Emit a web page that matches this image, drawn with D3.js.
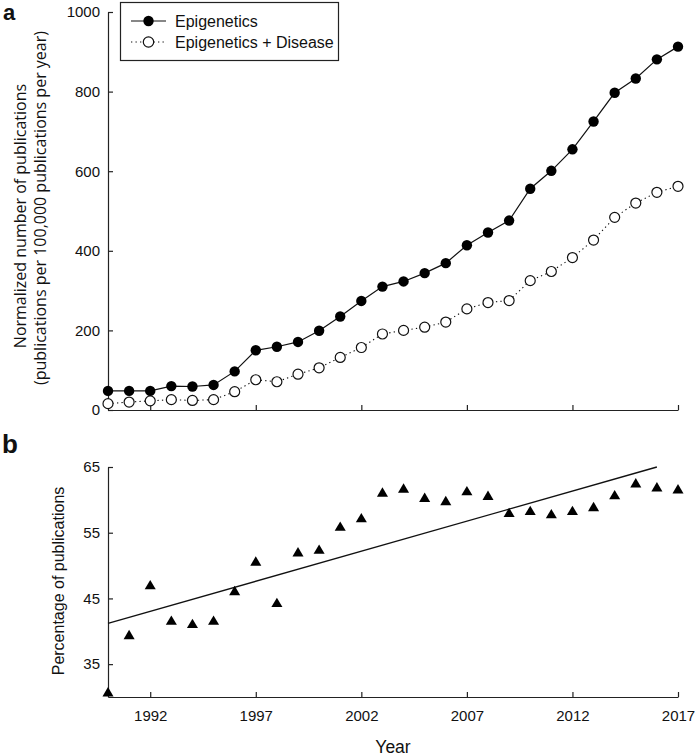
<!DOCTYPE html>
<html>
<head>
<meta charset="utf-8">
<script src="https://cdn.jsdelivr.net/npm/d3@7"></script>
<style>
  html, body { margin: 0; padding: 0; background: #fff; }
  svg { display: block; }
  text { fill: #111; }
</style>
</head>
<body>
<svg id="chart" width="696" height="756"></svg>
<script>
// ---------- data ----------
const years = [1990,1991,1992,1993,1994,1995,1996,1997,1998,1999,2000,2001,2002,2003,2004,2005,2006,2007,2008,2009,2010,2011,2012,2013,2014,2015,2016,2017];
const epigenetics = [48,48,48,60,59,63,97,150,159,171,199,235,274,310,323,344,369,414,446,476,556,601,655,725,797,833,881,913];
const epiDisease = [16,20,23,26,24,26,46,76,71,90,106,132,157,191,200,208,221,254,270,275,325,348,383,427,484,520,547,562];
const percentage = [30.8,39.5,47.1,41.7,41.2,41.7,46.2,50.7,44.4,52.1,52.5,56.0,57.3,61.2,61.8,60.4,59.9,61.4,60.7,58.1,58.4,57.9,58.4,59.0,60.8,62.6,62.0,61.7];
const trendYears = [1990, 2016];
const trendValues = [41.2, 65.0];
const seriesNames = ["Epigenetics", "Epigenetics + Disease"];
const xTicks = [1992,1997,2002,2007,2012,2017];
const yTopTicks = [0,200,400,600,800,1000];
const yBotTicks = [35,45,55,65];
const yTopTitle = ["Normalized number of publications", "(publications per 100,000 publications per year)"];
const yBotTitle = "Percentage of publications";
const xTitle = "Year";

// ---------- setup ----------
const svg = d3.select("#chart");
const axisColor = "#222";
const tickFont = "Liberation Sans, Arial, sans-serif";

const x = d3.scaleLinear().domain([1990, 2017]).range([108, 678]);
const yTop = d3.scaleLinear().domain([0, 1000]).range([410, 12]);
const yBot = d3.scaleLinear().domain([30, 65]).range([697, 467]);

function styleAxis(g) {
  g.selectAll("path.domain").attr("stroke", axisColor).attr("stroke-width", 1.2);
  g.selectAll(".tick line").attr("stroke", axisColor).attr("stroke-width", 1.2);
  g.selectAll(".tick text").attr("font-family", tickFont).attr("font-size", 15).attr("fill", "#111");
}

// ---------- panel a ----------
const gA = svg.append("g");

gA.append("g")
  .attr("transform", `translate(0,${yTop(0)})`)
  .call(d3.axisBottom(x).tickValues(xTicks).tickSizeInner(-5).tickSizeOuter(0).tickFormat(""))
  .call(styleAxis);

gA.append("g")
  .attr("transform", `translate(${x(1990)},0)`)
  .call(d3.axisLeft(yTop).tickValues(yTopTicks).tickSizeInner(-5).tickSizeOuter(0).tickPadding(8).tickFormat(d3.format("d")))
  .call(styleAxis);

const lineTop = (vals) => d3.line().x((d, i) => x(years[i])).y(d => yTop(d))(vals);

gA.append("path").attr("d", lineTop(epiDisease))
  .attr("fill", "none").attr("stroke", "#111").attr("stroke-width", 1.1)
  .attr("stroke-dasharray", "1.3,3.2");
gA.append("path").attr("d", lineTop(epigenetics))
  .attr("fill", "none").attr("stroke", "#111").attr("stroke-width", 1.2);

gA.selectAll("circle.dis").data(epiDisease).join("circle")
  .attr("class", "dis")
  .attr("cx", (d, i) => x(years[i])).attr("cy", d => yTop(d)).attr("r", 5)
  .attr("fill", "#fff").attr("stroke", "#111").attr("stroke-width", 1.2);
gA.selectAll("circle.epi").data(epigenetics).join("circle")
  .attr("class", "epi")
  .attr("cx", (d, i) => x(years[i])).attr("cy", d => yTop(d)).attr("r", 5.2)
  .attr("fill", "#000");

// legend
const leg = gA.append("g");
leg.append("rect").attr("x", 120.5).attr("y", 2.5).attr("width", 218).attr("height", 58)
  .attr("fill", "#fff").attr("stroke", "#222").attr("stroke-width", 1.2);
seriesNames.forEach((name, i) => {
  const cy = 21 + i * 21;
  leg.append("line").attr("x1", 131).attr("x2", 166).attr("y1", cy).attr("y2", cy)
    .attr("stroke", "#111").attr("stroke-width", i === 0 ? 1.2 : 1.1)
    .attr("stroke-dasharray", i === 0 ? null : "1.3,3.2");
  leg.append("circle").attr("cx", 148.5).attr("cy", cy).attr("r", 5.2)
    .attr("fill", i === 0 ? "#000" : "#fff").attr("stroke", "#111").attr("stroke-width", i === 0 ? 0 : 1.2);
  leg.append("text").attr("x", 175).attr("y", cy + 6).text(name)
    .attr("font-family", tickFont).attr("font-size", 16);
});

// y title (two lines)
gA.append("text")
  .attr("transform", `translate(26,216) rotate(-90)`)
  .attr("text-anchor", "middle")
  .attr("font-family", "Open Sans, sans-serif").attr("font-size", 16)
  .text(yTopTitle[0]);
gA.append("text")
  .attr("transform", `translate(46,208) rotate(-90)`)
  .attr("text-anchor", "middle")
  .attr("font-family", "Open Sans, sans-serif").attr("font-size", 16)
  .text(yTopTitle[1]);

gA.append("text").attr("x", 3).attr("y", 19.5).text("a")
  .attr("font-family", tickFont).attr("font-weight", "bold").attr("font-size", 22);

// ---------- panel b ----------
const gB = svg.append("g");

gB.append("g")
  .attr("transform", `translate(0,${yBot(30)})`)
  .call(d3.axisBottom(x).tickValues(xTicks).tickSizeInner(-5).tickSizeOuter(0).tickPadding(13).tickFormat(d3.format("d")))
  .call(styleAxis);

gB.append("g")
  .attr("transform", `translate(${x(1990)},0)`)
  .call(d3.axisLeft(yBot).tickValues(yBotTicks).tickSizeInner(-5).tickSizeOuter(0).tickPadding(8))
  .call(styleAxis);

gB.append("path")
  .attr("d", d3.line().x((d, i) => x(trendYears[i])).y(d => yBot(d))(trendValues))
  .attr("fill", "none").attr("stroke", "#111").attr("stroke-width", 1.3);

// triangle centered on its bounding box
const triBox = {
  draw(ctx, size) {
    const w = Math.sqrt(size * 2 / 0.85);
    const h = w * 0.85;
    ctx.moveTo(0, -h / 2);
    ctx.lineTo(w / 2, h / 2);
    ctx.lineTo(-w / 2, h / 2);
    ctx.closePath();
  }
};
gB.selectAll("path.tri").data(percentage).join("path")
  .attr("class", "tri")
  .attr("transform", (d, i) => `translate(${x(years[i])},${yBot(d)})`)
  .attr("d", d3.symbol().type(triBox).size(52))
  .attr("fill", "#000");

gB.append("text")
  .attr("transform", `translate(64,581) rotate(-90)`)
  .attr("text-anchor", "middle")
  .attr("font-family", tickFont).attr("font-size", 16)
  .text(yBotTitle);

gB.append("text").attr("x", 393).attr("y", 753).attr("text-anchor", "middle")
  .attr("font-family", tickFont).attr("font-size", 17.5)
  .text(xTitle);

gB.append("text").attr("x", 2).attr("y", 453).text("b")
  .attr("font-family", tickFont).attr("font-weight", "bold").attr("font-size", 26);
</script>
</body>
</html>
